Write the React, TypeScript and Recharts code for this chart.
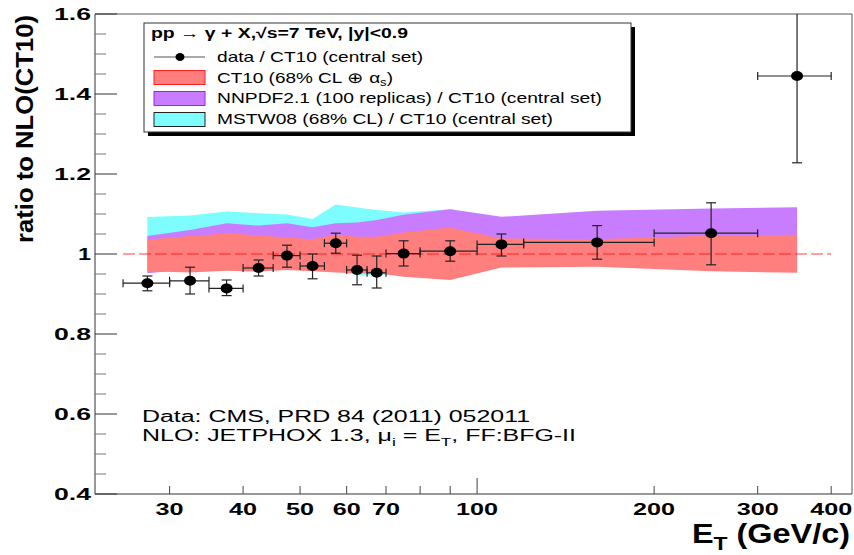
import React from 'react';
import {
  ComposedChart,
  Area,
  Scatter,
  ErrorBar,
  XAxis,
  YAxis,
  ReferenceLine,
  Legend,
  Customized,
} from 'recharts';

// ---------- data ----------
const energy = [27.5, 32.5, 37.5, 42.5, 47.5, 52.5, 57.5, 62.5, 67.5, 75, 90, 110, 160, 250, 350];
const binLow = [25, 30, 35, 40, 45, 50, 55, 60, 65, 70, 80, 100, 120, 200, 300];
const binHigh = [30, 35, 40, 45, 50, 55, 60, 65, 70, 80, 100, 120, 200, 300, 400];
const ratio = [0.927, 0.933, 0.914, 0.965, 0.996, 0.970, 1.027, 0.960, 0.953, 1.001, 1.007, 1.024, 1.029, 1.052, 1.445];
const errDown = [0.019, 0.033, 0.018, 0.020, 0.029, 0.032, 0.025, 0.037, 0.038, 0.031, 0.025, 0.029, 0.042, 0.079, 0.217];
const errUp = [0.018, 0.034, 0.021, 0.020, 0.026, 0.030, 0.025, 0.037, 0.042, 0.032, 0.026, 0.026, 0.042, 0.076, 0.217];

const ct10Low = [0.957, 0.954, 0.958, 0.956, 0.960, 0.957, 0.954, 0.952, 0.952, 0.943, 0.935, 0.966, 0.968, 0.957, 0.953];
const ct10High = [1.036, 1.045, 1.051, 1.047, 1.041, 1.037, 1.049, 1.043, 1.043, 1.054, 1.066, 1.039, 1.037, 1.046, 1.048];
const nnpdfLow = [0.952, 0.962, 0.965, 0.963, 0.966, 0.963, 0.961, 0.960, 0.960, 0.952, 0.945, 0.972, 0.974, 0.964, 0.960];
const nnpdfHigh = [1.045, 1.060, 1.077, 1.071, 1.077, 1.067, 1.077, 1.079, 1.085, 1.098, 1.112, 1.093, 1.108, 1.114, 1.117];
const mstwLow = [0.962, 0.960, 0.962, 0.960, 0.963, 0.960, 0.957, 0.947, 0.948, 0.950, 0.945, 0.972, 0.974, 0.964, 0.960];
const mstwHigh = [1.0925, 1.096, 1.106, 1.102, 1.099, 1.0875, 1.124, 1.116, 1.110, 1.104, 1.112, 1.088, 1.100, 1.105, 1.108];

const xTicks = [30, 40, 50, 60, 70, 80, 90, 100, 200, 300, 400];
const xTickLabels = ['30', '40', '50', '60', '70', '', '', '100', '200', '300', '400'];
const yTicks = [0.4, 0.45, 0.5, 0.55, 0.6, 0.65, 0.7, 0.75, 0.8, 0.85, 0.9, 0.95, 1.0, 1.05, 1.1, 1.15, 1.2, 1.25, 1.3, 1.35, 1.4, 1.45, 1.5, 1.55, 1.6];
const yTickLabels: Record<string, string> = { '0.4': '0.4', '0.6': '0.6', '0.8': '0.8', '1': '1', '1.2': '1.2', '1.4': '1.4', '1.6': '1.6' };

const legendHeader = 'pp \u2192 \u03b3 + X,\u221as=7 TeV, |y|<0.9';
const legendData = 'data / CT10 (central set)';
const legendCT10 = 'CT10 (68% CL \u2295 \u03b1';
const legendNNPDF = 'NNPDF2.1 (100 replicas) / CT10 (central set)';
const legendMSTW = 'MSTW08 (68% CL) / CT10 (central set)';
const noteLine1 = 'Data: CMS, PRD 84 (2011) 052011';

// ---------- tables built from the arrays ----------
const bandRows = energy.map((e, i) => ({
  x: e,
  ct10: [ct10Low[i], ct10High[i]],
  nnpdf: [nnpdfLow[i], nnpdfHigh[i]],
  mstw: [mstwLow[i], mstwHigh[i]],
}));
const points = energy.map((e, i) => ({
  x: e,
  y: ratio[i],
  ex: [e - binLow[i], binHigh[i] - e],
  ey: [errDown[i], errUp[i]],
}));

// ---------- layout ----------
const W = 854;
const H = 555;
const PL = 95;
const PR = 852;
const PT = 14;
const PB = 494;
const FONT = '"Liberation Sans", Arial, Helvetica, sans-serif';

const RED = '#ff7f7f';
const PURPLE = '#c87dff';
const CYAN = '#7dfdfd';

const YTick = (props: any) => {
  const { y, payload } = props;
  const v = Number(payload.value);
  const key = String(Math.round(v * 100) / 100);
  const major = Math.abs(v * 5 - Math.round(v * 5)) < 1e-6;
  const label = yTickLabels[key];
  return (
    <g>
      <line x1={PL} x2={PL + (major ? 22 : 11)} y1={y} y2={y} stroke={major ? '#333' : '#777'} strokeWidth={1} />
      {major && label && (
        <text
          x={PL - 4}
          y={y + 6}
          textAnchor="end"
          fontFamily={FONT}
          fontWeight="bold"
          fontSize={16}
          fill="#000"
          textLength={label.length === 1 ? 13 : 37}
          lengthAdjust="spacingAndGlyphs"
        >
          {label}
        </text>
      )}
    </g>
  );
};

const XTick = (props: any) => {
  const { x, payload } = props;
  const v = Number(payload.value);
  const i = xTicks.indexOf(v);
  const label = i >= 0 ? xTickLabels[i] : '';
  const len = v === 100 ? 16 : 8;
  return (
    <g>
      <line x1={x} x2={x} y1={PB} y2={PB - len} stroke="#444" strokeWidth={1} />
      {label && (
        <text
          x={x}
          y={515}
          textAnchor="middle"
          fontFamily={FONT}
          fontWeight="bold"
          fontSize={17}
          fill="#000"
          textLength={label.length * 14}
          lengthAdjust="spacingAndGlyphs"
        >
          {label}
        </text>
      )}
    </g>
  );
};

const LegendBox = () => {
  const ox = 140;
  const oy = 19;
  const tx = 217 - ox;
  return (
    <svg width={500} height={122} style={{ display: 'block', overflow: 'visible' }}>
      <rect x={8} y={8} width={487} height={109} fill="#000" />
      <rect x={4} y={4} width={487} height={109} fill="#fff" stroke="#333" strokeWidth={1} />
      <text x={151 - ox} y={38 - oy} fontFamily={FONT} fontWeight="bold" fontSize={14.5} fill="#000" textLength={257} lengthAdjust="spacingAndGlyphs">
        {legendHeader}
      </text>
      {/* data row */}
      <line x1={154 - ox} x2={205 - ox} y1={57 - oy} y2={57 - oy} stroke="#555" strokeWidth={1} />
      <ellipse cx={180 - ox} cy={57 - oy} rx={4.5} ry={4} fill="#000" />
      <text x={tx} y={62 - oy} fontFamily={FONT} fontSize={14.5} fill="#000" textLength={206} lengthAdjust="spacingAndGlyphs">
        {legendData}
      </text>
      {/* CT10 */}
      <rect x={154 - ox} y={70.5 - oy} width={51} height={14} fill={RED} stroke="#ff2020" strokeWidth={1} />
      <text x={tx} y={82.5 - oy} fontFamily={FONT} fontSize={14.5} fill="#000" textLength={176} lengthAdjust="spacingAndGlyphs">
        {legendCT10}
        <tspan fontSize={10} dy={3}>s</tspan>
        <tspan dy={-3}>)</tspan>
      </text>
      {/* NNPDF */}
      <rect x={154 - ox} y={91.5 - oy} width={51} height={14} fill={PURPLE} stroke="#a020f0" strokeWidth={1} />
      <text x={tx} y={103 - oy} fontFamily={FONT} fontSize={14.5} fill="#000" textLength={385} lengthAdjust="spacingAndGlyphs">
        {legendNNPDF}
      </text>
      {/* MSTW */}
      <rect x={154 - ox} y={112.5 - oy} width={51} height={14} fill={CYAN} stroke="#222" strokeWidth={1} />
      <text x={tx} y={123.5 - oy} fontFamily={FONT} fontSize={14.5} fill="#000" textLength={336} lengthAdjust="spacingAndGlyphs">
        {legendMSTW}
      </text>
    </svg>
  );
};

const Overlay = () => (
  <g>
    <defs>
      <clipPath id="plotAreaClip">
        <rect x={PL} y={PT} width={PR - PL} height={PB - PT} />
      </clipPath>
    </defs>
    <style>{`.recharts-errorBars, .recharts-errorBar { clip-path: url(#plotAreaClip); }`}</style>
    {/* frame top / right */}
    <line x1={PL} x2={PR} y1={PT} y2={PT} stroke="#555" strokeWidth={1} />
    <line x1={PR} x2={PR} y1={PT} y2={PB} stroke="#555" strokeWidth={1} />
    {/* y title */}
    <text
      x={33}
      y={15}
      transform="rotate(-90, 33, 15)"
      textAnchor="end"
      fontFamily={FONT}
      fontWeight="bold"
      fontSize={24}
      fill="#000"
      textLength={228}
      lengthAdjust="spacingAndGlyphs"
    >
      ratio to NLO(CT10)
    </text>
    {/* x title */}
    <text x={692} y={543} fontFamily={FONT} fontWeight="bold" fontSize={27} fill="#000" textLength={158} lengthAdjust="spacingAndGlyphs">
      E<tspan fontSize={19} dy={7}>T</tspan>
      <tspan dy={-7}> (GeV/c)</tspan>
    </text>
    {/* annotations */}
    <text x={142} y={422} fontFamily={FONT} fontSize={16} fill="#000" textLength={388} lengthAdjust="spacingAndGlyphs">
      {noteLine1}
    </text>
    <text x={142} y={441} fontFamily={FONT} fontSize={16} fill="#000" textLength={434} lengthAdjust="spacingAndGlyphs">
      NLO: JETPHOX 1.3, {'\u03bc'}
      <tspan fontSize={11} dy={5}>i</tspan>
      <tspan dy={-5}> = E</tspan>
      <tspan fontSize={11} dy={5}>T</tspan>
      <tspan dy={-5}>, FF:BFG-II</tspan>
    </text>
  </g>
);

const Dot = (props: any) => {
  const { cx, cy } = props;
  if (cx == null || cy == null) return null;
  return <ellipse cx={cx} cy={cy} rx={6} ry={5} fill="#000" />;
};

export default function App() {
  return (
    <div style={{ position: 'absolute', left: 0, top: 0, width: W, height: H, background: '#fff' }}>
      <ComposedChart width={W} height={H} data={bandRows} margin={{ top: PT, right: W - PR, bottom: 0, left: 0 }}>
        <XAxis
          dataKey="x"
          type="number"
          scale="log"
          domain={[22.4, 434]}
          allowDataOverflow
          ticks={xTicks}
          interval={0}
          tick={<XTick />}
          tickLine={false}
          axisLine={{ stroke: '#333', strokeWidth: 1 }}
          height={H - PB}
        />
        <YAxis
          type="number"
          domain={[0.4, 1.6]}
          allowDataOverflow
          ticks={yTicks}
          interval={0}
          tick={<YTick />}
          tickLine={false}
          axisLine={{ stroke: '#333', strokeWidth: 1 }}
          width={PL}
        />
        <Area dataKey="mstw" type="linear" fill={CYAN} fillOpacity={1} stroke="none" isAnimationActive={false} />
        <Area dataKey="nnpdf" type="linear" fill={PURPLE} fillOpacity={1} stroke="none" isAnimationActive={false} />
        <Area dataKey="ct10" type="linear" fill={RED} fillOpacity={1} stroke="none" isAnimationActive={false} />
        <ReferenceLine
          segment={[
            { x: 25, y: 1 },
            { x: 400, y: 1 },
          ]}
          stroke="#ff0000"
          strokeOpacity={0.5}
          strokeWidth={1.5}
          strokeDasharray="12 4"
        />
        <Scatter data={points} dataKey="y" shape={<Dot />} isAnimationActive={false}>
          <ErrorBar dataKey="ex" direction="x" width={4} stroke="#222" strokeWidth={1.2} isAnimationActive={false} />
          <ErrorBar dataKey="ey" direction="y" width={5} stroke="#222" strokeWidth={1.2} isAnimationActive={false} />
        </Scatter>
        <Customized component={<Overlay />} />
        <Legend
          content={<LegendBox />}
          layout="horizontal"
          verticalAlign="middle"
          align="center"
          wrapperStyle={{ left: 140, top: 19, width: 500, height: 122 }}
        />
      </ComposedChart>
    </div>
  );
}
